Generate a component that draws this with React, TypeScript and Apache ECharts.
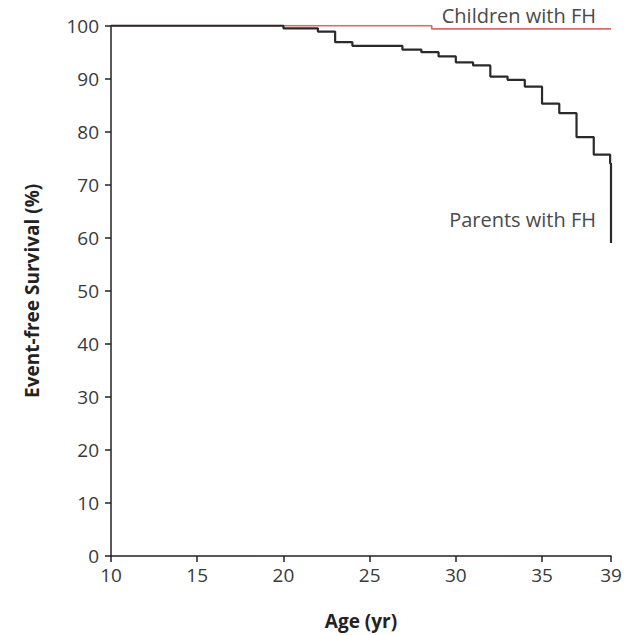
import React, { useEffect, useRef } from "react";
import * as echarts from "echarts";

const xTicks = [10, 15, 20, 25, 30, 35, 39];
const parentsAges = [10, 20, 22, 23, 24, 26.9, 28, 29, 30, 31, 32, 33, 34, 35, 36, 37, 38, 38.95, 39];
const parentsSurvival = [100, 99.5, 98.9, 96.9, 96.2, 95.5, 95.0, 94.2, 93.1, 92.5, 90.4, 89.8, 88.5, 85.3, 83.5, 79.0, 75.7, 74.0, 59.0];
const childrenAges = [10, 28.6, 39];
const childrenSurvival = [100, 99.4, 99.4];
const seriesNames = ["Parents with FH", "Children with FH"];

const FONT = "'Open Sans', 'DejaVu Sans', sans-serif";

export default function App() {
  const ref = useRef<HTMLDivElement>(null);
  useEffect(() => {
    if (!ref.current) return;
    const chart = echarts.init(ref.current, null, { renderer: "svg" });
    const parents = parentsAges.map((a, i) => [a, parentsSurvival[i]]);
    const children = childrenAges.map((a, i) => [a, childrenSurvival[i]]);
    chart.setOption({
      animation: false,
      backgroundColor: "#ffffff",
      grid: { left: 111, right: 18, top: 25.7, bottom: 77, containLabel: false },
      xAxis: {
        type: "value",
        min: 10,
        max: 39,
        interval: 5,
        name: "Age (yr)",
        nameLocation: "middle",
        nameGap: 55,
        nameTextStyle: { fontFamily: FONT, fontSize: 19, fontWeight: "bold", color: "#222" },
        axisLine: { show: true, lineStyle: { color: "#222", width: 1.5 } },
        axisTick: { show: true, length: 6, customValues: xTicks, lineStyle: { color: "#222", width: 1.5 } },
        axisLabel: { customValues: xTicks, margin: 9, fontFamily: FONT, fontSize: 19, color: "#3a3a3a" },
        splitLine: { show: false },
      },
      yAxis: {
        type: "value",
        min: 0,
        max: 100,
        interval: 10,
        name: "Event-free Survival (%)",
        nameLocation: "middle",
        nameGap: 70,
        nameRotate: 90,
        nameTextStyle: { fontFamily: FONT, fontSize: 19, fontWeight: "bold", color: "#222" },
        axisLine: { show: true, lineStyle: { color: "#222", width: 1.5 } },
        axisTick: { show: true, length: 6, lineStyle: { color: "#222", width: 1.5 } },
        axisLabel: { margin: 12, fontFamily: FONT, fontSize: 19, color: "#3a3a3a" },
        splitLine: { show: false },
      },
      series: [
        {
          name: seriesNames[1],
          type: "line",
          step: "end",
          data: children,
          symbol: "none",
          lineStyle: { color: "#d46d6d", width: 1.8 },
          z: 2,
        },
        {
          name: seriesNames[0],
          type: "line",
          step: "end",
          data: parents,
          symbol: "none",
          lineStyle: { color: "#2a2a2a", width: 2.2 },
          z: 3,
        },
      ],
      graphic: [
        {
          type: "text",
          right: 33,
          top: 5,
          style: { text: seriesNames[1], fontFamily: FONT, fontSize: 20, fill: "#4a4a4a" },
        },
        {
          type: "text",
          right: 33,
          top: 209,
          style: { text: seriesNames[0], fontFamily: FONT, fontSize: 20, fill: "#4a4a4a" },
        },
      ],
    });
    return () => chart.dispose();
  }, []);
  return (
    <div
      ref={ref}
      style={{ position: "fixed", left: 0, top: 0, width: 629, height: 635, background: "#fff" }}
    />
  );
}
